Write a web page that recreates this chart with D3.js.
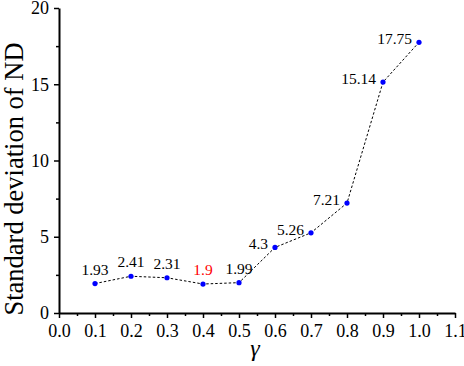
<!DOCTYPE html>
<html>
<head>
<meta charset="utf-8">
<script src="https://cdn.jsdelivr.net/npm/d3@7"></script>
<style>
  body { margin: 0; background: #fff; }
  text { font-family: "Liberation Serif", "Times New Roman", serif; }
</style>
</head>
<body>
<svg id="chart"></svg>
<script>
  var width = 464, height = 366;

  // data
  var gammas = [0.1, 0.2, 0.3, 0.4, 0.5, 0.6, 0.7, 0.8, 0.9, 1.0];
  var stdND = [1.93, 2.41, 2.31, 1.9, 1.99, 4.3, 5.26, 7.21, 15.14, 17.75];
  var labels = ["1.93", "2.41", "2.31", "1.9", "1.99", "4.3", "5.26", "7.21", "15.14", "17.75"];
  var labelColors = ["#000", "#000", "#000", "red", "#000", "#000", "#000", "#000", "#000", "#000"];
  var xTicks = [0.0, 0.1, 0.2, 0.3, 0.4, 0.5, 0.6, 0.7, 0.8, 0.9, 1.0, 1.1];
  var yTicks = [0, 5, 10, 15, 20];

  var svg = d3.select("#chart")
    .attr("width", width)
    .attr("height", height);

  var x = d3.scaleLinear().domain([0, 1.1]).range([59, 455]);
  var y = d3.scaleLinear().domain([0, 20]).range([313, 8]);

  // minor ticks first
  svg.append("g")
    .attr("transform", "translate(0,313)")
    .call(d3.axisBottom(x).tickValues(d3.range(0.05, 1.1, 0.1)).tickSize(3).tickFormat(""))
    .call(function(g){ g.select(".domain").remove(); })
    .selectAll("line").attr("stroke-width", 1.5);

  svg.append("g")
    .attr("transform", "translate(59,0)")
    .call(d3.axisLeft(y).tickValues(d3.range(2.5, 20, 5)).tickSize(3).tickFormat(""))
    .call(function(g){ g.select(".domain").remove(); })
    .selectAll("line").attr("stroke-width", 1.5);

  var xAxis = svg.append("g")
    .attr("transform", "translate(0,313)")
    .call(d3.axisBottom(x).tickValues(xTicks).tickSize(5).tickSizeOuter(0).tickPadding(6)
      .tickFormat(d3.format(".1f")));

  var yAxis = svg.append("g")
    .attr("transform", "translate(59,0)")
    .call(d3.axisLeft(y).tickValues(yTicks).tickSize(5).tickSizeOuter(0).tickPadding(5));

  [xAxis, yAxis].forEach(function(g){
    g.select(".domain").attr("stroke-width", 2);
    g.selectAll(".tick line").attr("stroke-width", 1.5);
    g.selectAll(".tick text")
      .style("font-family", "'Liberation Serif', serif")
      .style("font-size", "18px")
      .attr("fill", "#000");
  });

  // axis titles
  svg.append("text")
    .attr("transform", "translate(23,179) rotate(-90)")
    .attr("text-anchor", "middle")
    .style("font-size", "26.5px")
    .text("Standard deviation of ND");

  svg.append("text")
    .attr("x", 255)
    .attr("y", 356)
    .attr("text-anchor", "middle")
    .style("font-size", "24px")
    .style("font-style", "italic")
    .text("γ");

  // dashed line
  var line = d3.line()
    .x(function(d, i){ return x(gammas[i]); })
    .y(function(d){ return y(d); });

  svg.append("path")
    .datum(stdND)
    .attr("d", line)
    .attr("fill", "none")
    .attr("stroke", "#000")
    .attr("stroke-width", 1)
    .attr("stroke-dasharray", "2.5,2");

  svg.selectAll("circle.pt")
    .data(stdND)
    .enter().append("circle")
    .attr("class", "pt")
    .attr("cx", function(d, i){ return x(gammas[i]); })
    .attr("cy", function(d){ return y(d); })
    .attr("r", 2.6)
    .attr("fill", "#0000ff");

  // value labels: first five above the point, the rest to its left
  svg.selectAll("text.lbl")
    .data(stdND)
    .enter().append("text")
    .attr("class", "lbl")
    .attr("x", function(d, i){ return i < 5 ? x(gammas[i]) : x(gammas[i]) - 7; })
    .attr("y", function(d, i){ return i < 5 ? y(d) - 9 : y(d) + 2; })
    .attr("text-anchor", function(d, i){ return i < 5 ? "middle" : "end"; })
    .attr("fill", function(d, i){ return labelColors[i]; })
    .style("font-size", "15.5px")
    .text(function(d, i){ return labels[i]; });
</script>
</body>
</html>
